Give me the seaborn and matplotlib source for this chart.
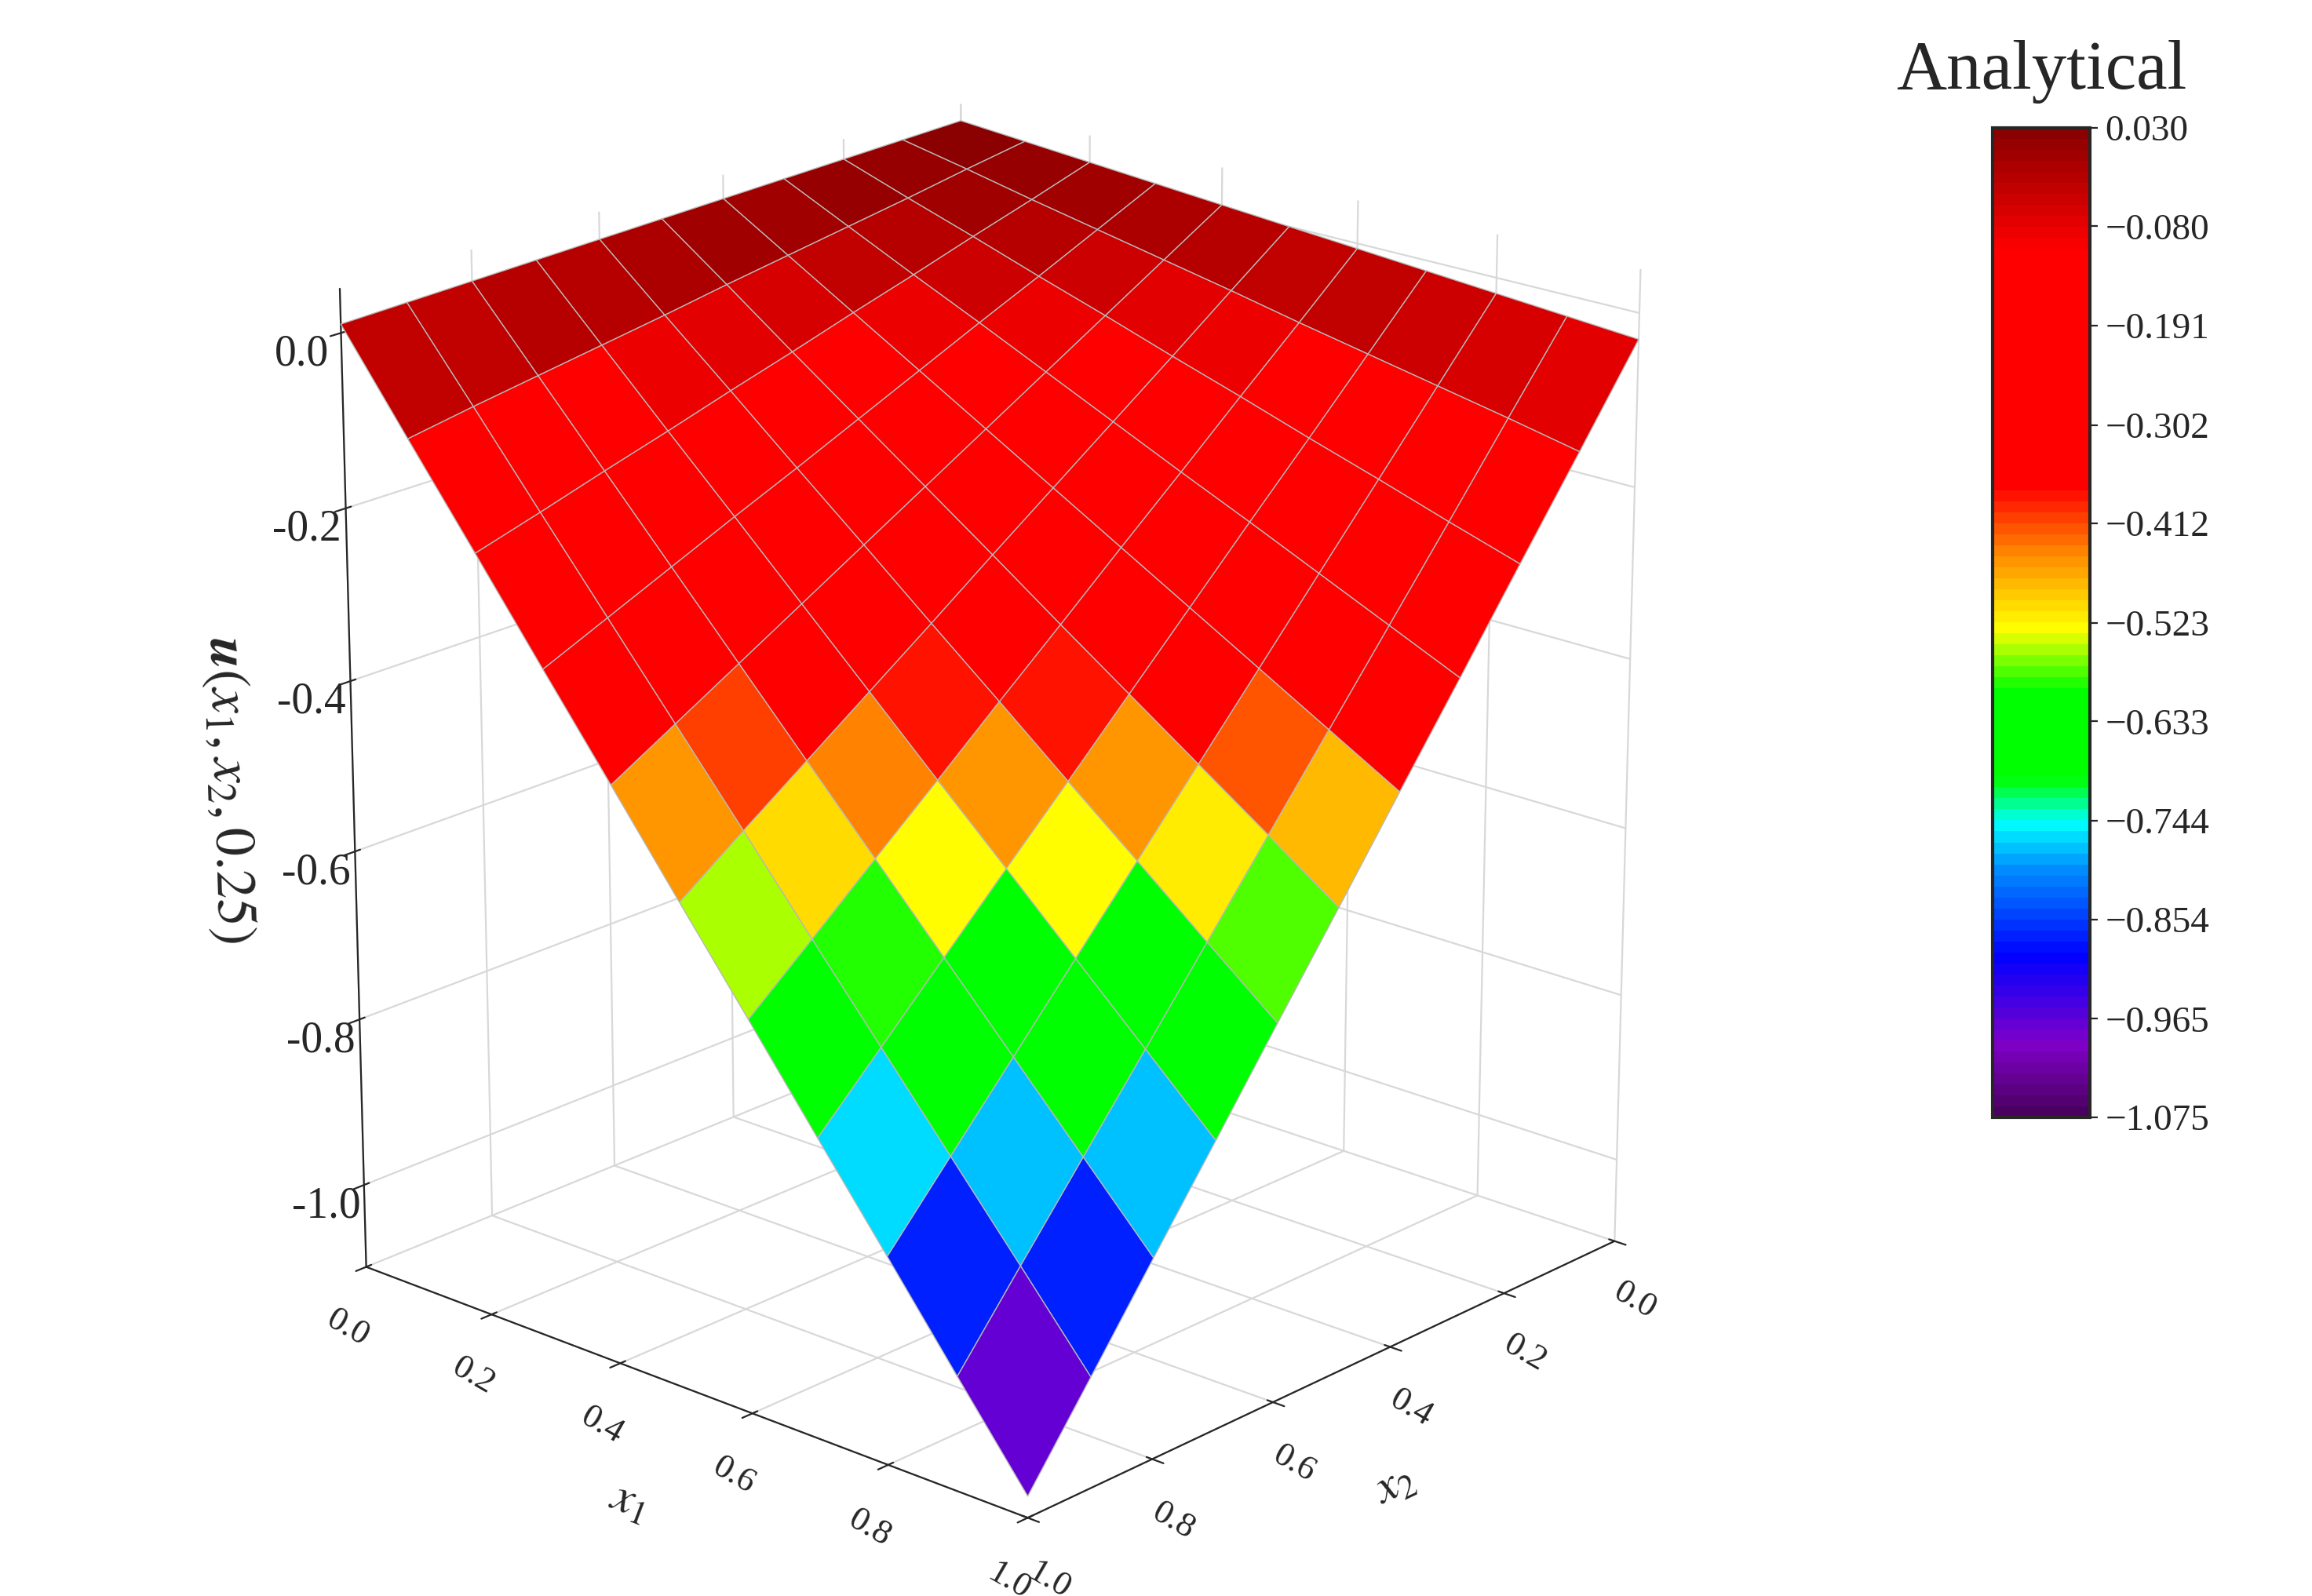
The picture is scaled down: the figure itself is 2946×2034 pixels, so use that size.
import numpy as np
import seaborn as sns
import matplotlib.pyplot as plt
from matplotlib.colors import LinearSegmentedColormap

# grid coordinates
x1_vals = [0.0, 0.1, 0.2, 0.3, 0.4, 0.5, 0.6, 0.7, 0.8, 0.9, 1.0]
x2_vals = [0.0, 0.1, 0.2, 0.3, 0.4, 0.5, 0.6, 0.7, 0.8, 0.9, 1.0]

# u(x1, x2, 0.25), rows = x1, columns = x2
u_rows = [
    [0.030, 0.028, 0.026, 0.024, 0.022, 0.020, 0.018, 0.016, 0.014, 0.012, 0.010],
    [0.024, 0.012, -0.001, -0.013, -0.025, -0.037, -0.050, -0.062, -0.074, -0.086, -0.099],
    [0.018, -0.005, -0.027, -0.050, -0.072, -0.095, -0.117, -0.140, -0.162, -0.185, -0.207],
    [0.012, -0.021, -0.054, -0.086, -0.119, -0.152, -0.185, -0.217, -0.250, -0.283, -0.316],
    [0.006, -0.037, -0.080, -0.123, -0.166, -0.209, -0.252, -0.295, -0.338, -0.381, -0.424],
    [0.000, -0.053, -0.107, -0.160, -0.213, -0.266, -0.320, -0.373, -0.426, -0.479, -0.533],
    [-0.006, -0.070, -0.133, -0.197, -0.260, -0.324, -0.387, -0.451, -0.514, -0.578, -0.641],
    [-0.012, -0.086, -0.160, -0.233, -0.307, -0.381, -0.455, -0.528, -0.602, -0.676, -0.750],
    [-0.018, -0.102, -0.186, -0.270, -0.354, -0.438, -0.522, -0.606, -0.690, -0.774, -0.858],
    [-0.024, -0.118, -0.213, -0.307, -0.401, -0.495, -0.590, -0.684, -0.778, -0.872, -0.967],
    [-0.030, -0.135, -0.239, -0.344, -0.448, -0.553, -0.657, -0.762, -0.866, -0.971, -1.075],
]

cbar_ticks = [0.030, -0.080, -0.191, -0.302, -0.412, -0.523, -0.633, -0.744, -0.854, -0.965, -1.075]
z_ticks = [0.0, -0.2, -0.4, -0.6, -0.8, -1.0]
xy_ticks = [0.0, 0.2, 0.4, 0.6, 0.8, 1.0]

sns.set_style("white")
plt.rcParams['font.family'] = ['Liberation Serif', 'DejaVu Serif']
plt.rcParams['mathtext.fontset'] = 'stix'

cmap = LinearSegmentedColormap.from_list(
    "origin_rainbow",
    [(0.0, "#4a0060"), (0.07, "#8000c8"), (0.16, "#0000ff"), (0.25, "#0090ff"),
     (0.295, "#00ffff"), (0.34, "#00ff00"), (0.43, "#00ff00"), (0.493, "#ffff00"),
     (0.566, "#ff9000"), (0.638, "#ff0000"), (0.88, "#ff0000"), (1.0, "#8b0000")], N=90)

X1, X2 = np.meshgrid(x1_vals, x2_vals, indexing="ij")
U = np.array(u_rows)

fig = plt.figure(figsize=(14.73, 10.17), dpi=200)
ax = fig.add_axes([-0.03, 0.0, 0.9, 1.0], projection="3d")
surf = ax.plot_surface(X2, X1, U, cmap=cmap, vmin=-1.075, vmax=0.030,
                       edgecolor="#b8b8b8", linewidth=0.5, antialiased=True,
                       rcount=11, ccount=11)
ax.view_init(elev=20, azim=42)
ax.set_xlim(0, 1)
ax.set_ylim(0, 1)
ax.set_zlim(-1.1, 0.05)
ax.set_xticks(xy_ticks)
ax.set_yticks(xy_ticks)
ax.set_zticks(z_ticks)
ax.set_xticklabels([f"{t:.1f}" for t in xy_ticks], fontsize=16, rotation=-30)
ax.set_yticklabels([f"{t:.1f}" for t in xy_ticks], fontsize=16, rotation=-30)
ax.set_zticklabels([f"{t:.1f}" for t in z_ticks], fontsize=20)
ax.set_xlabel(r"$x_2$", fontsize=22, labelpad=14)
ax.set_ylabel(r"$x_1$", fontsize=22, labelpad=14)
ax.set_zlabel(r"$\boldsymbol{u}(x_1,x_2,0.25)$", fontsize=26, labelpad=16)
for a in (ax.xaxis, ax.yaxis, ax.zaxis):
    a.set_pane_color((1, 1, 1, 0))
    a._axinfo["grid"]["color"] = "#d8d8d8"
    a._axinfo["grid"]["linewidth"] = 0.8
ax.set_box_aspect((1, 1, 1.15), zoom=1.0)

cax = fig.add_axes([0.862, 0.30, 0.042, 0.62])
cb = fig.colorbar(surf, cax=cax, ticks=cbar_ticks)
cb.ax.set_yticklabels([f"{t:.3f}".replace("-", "\u2212") for t in cbar_ticks], fontsize=17)
cb.outline.set_linewidth(1.5)
cax.set_title("Analytical", fontsize=32, pad=18)

fig.savefig("out.png", dpi=200)
